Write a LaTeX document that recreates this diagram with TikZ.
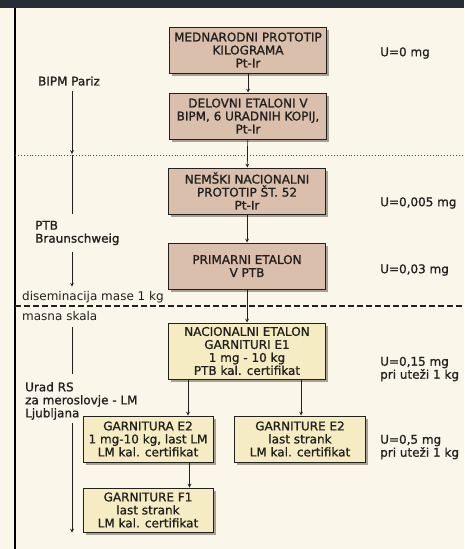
\documentclass[tikz,border=0pt]{standalone}
\usepackage{fontspec}
\setmainfont{DejaVu Sans}[BoldFont={DejaVu Sans},BoldFeatures={FakeBold=1.1}]
\usetikzlibrary{shadows}
\definecolor{ozadje}{RGB}{250,246,234}
\definecolor{temno}{RGB}{40,44,54}
\definecolor{roza}{RGB}{218,192,172}
\definecolor{rumena}{RGB}{246,236,196}
\definecolor{senca}{RGB}{168,162,150}
\definecolor{tekst}{RGB}{34,32,30}
\begin{document}
\begin{tikzpicture}[x=1pt,y=-1pt,>=stealth,font=\fontsize{12}{13}\selectfont\bfseries,text=tekst,
  skatla/.style={draw=tekst,line width=1pt,align=center,minimum width=157pt,minimum height=46pt,inner sep=1pt,
    drop shadow={shadow xshift=2.5pt,shadow yshift=-2.5pt,fill=senca,opacity=1}},
  roza skatla/.style={skatla,fill=roza},
  rumena skatla/.style={skatla,fill=rumena},
  oznaka/.style={anchor=west,align=left,inner xsep=1pt},
  tanka/.style={font=\fontsize{12}{13}\selectfont\mdseries},
  puscica/.style={->,line width=0.7pt,draw=tekst}]
  \useasboundingbox (0,0) rectangle (464,549);
  \fill[ozadje] (0,0) rectangle (464,549);
  \fill[temno] (0,0) rectangle (464,8);
  \draw[line width=1.6pt] (15,8)--(15,549);
  % loceni crti
  \coordinate (pikaL) at (15,155); \coordinate (pikaR) at (464,155);
  \coordinate (crtaL) at (15,306); \coordinate (crtaR) at (464,306);
  \draw[dotted,line width=0.9pt,tekst!80] (pikaL)--(pikaR);
  \draw[line width=1.3pt,dash pattern=on 5.5pt off 3.5pt,tekst] (crtaL)--(crtaR);
  % skatle
  \node[roza skatla] (mpk) at (248,50) {MEDNARODNI PROTOTIP\\KILOGRAMA\\Pt-Ir};
  \node[roza skatla] (delovni) at (248,116) {DELOVNI ETALONI V\\BIPM, 6 URADNIH KOPIJ,\\Pt-Ir};
  \node[roza skatla] (nemski) at (247,191) {NEMŠKI NACIONALNI\\PROTOTIP ŠT. 52\\Pt-Ir};
  \node[roza skatla] (primarni) at (247,266) {PRIMARNI ETALON\\V PTB};
  \node[rumena skatla,minimum height=56pt] (e1) at (247,351) {NACIONALNI ETALON\\GARNITURI E1\\1 mg - 10 kg\\PTB kal. certifikat};
  \node[rumena skatla,minimum width=130pt] (e2lm) at (148,439) {GARNITURA E2\\1 mg-10 kg, last LM\\LM kal. certifikat};
  \node[rumena skatla,minimum width=131pt] (e2s) at (300,439) {GARNITURE E2\\last strank\\LM kal. certifikat};
  \node[rumena skatla,minimum width=130pt,minimum height=44pt] (f1) at (148,510) {GARNITURE F1\\last strank\\LM kal. certifikat};
  \draw[puscica] (mpk)--(delovni);
  \draw[puscica] (delovni)--(nemski);
  \draw[puscica] (nemski)--(primarni);
  \draw[puscica] (primarni)--(e1);
  \draw[puscica] ([xshift=20pt]e1.south west)--([xshift=20pt]e1.south west |- e2lm.north);
  \draw[puscica] ([xshift=-25pt]e1.south east)--([xshift=-25pt]e1.south east |- e2s.north);
  \draw[puscica] ([xshift=-24pt]e2lm.south east)--([xshift=-24pt]e2lm.south east |- f1.north);
  % negotovosti
  \node[oznaka] (u1) at (379,53) {U=0 mg};
  \node[oznaka] (u2) at (379,203) {U=0,005 mg};
  \node[oznaka] (u3) at (379,270) {U=0,03 mg};
  \node[oznaka] (u4) at (379,369) {U=0,15 mg\\pri uteži 1 kg};
  \node[oznaka] (u5) at (379,447) {U=0,5 mg\\pri uteži 1 kg};
  % leva os
  \coordinate (os) at (72,0);
  \node (pariz) at (69,81) {BIPM Pariz};
  \node[oznaka] (braun) at (34,233) {PTB\\Braunschweig};
  \node[oznaka,tanka] (disem) at (21,297) {diseminacija mase 1 kg};
  \node[oznaka,tanka] (skala) at (21,316) {masna skala};
  \node[oznaka] (urad) at (24,401) {Urad RS\\za meroslovje - LM\\Ljubljana};
  \draw[puscica] ([yshift=-2pt]pariz.south -| os)--([yshift=1pt]os |- pikaL);
  \draw[line width=0.7pt,tekst] (os |- pikaL)--([yshift=3pt]braun.north -| os);
  \draw[puscica] ([yshift=-3pt]braun.south -| os)--([yshift=1pt]disem.north -| os);
  \draw[line width=0.7pt,tekst] ([yshift=-3pt]skala.south -| os)--([yshift=5pt]urad.north -| os);
  \draw[puscica] (urad.south -| os)--(os |- f1.south);
\end{tikzpicture}
\end{document}
